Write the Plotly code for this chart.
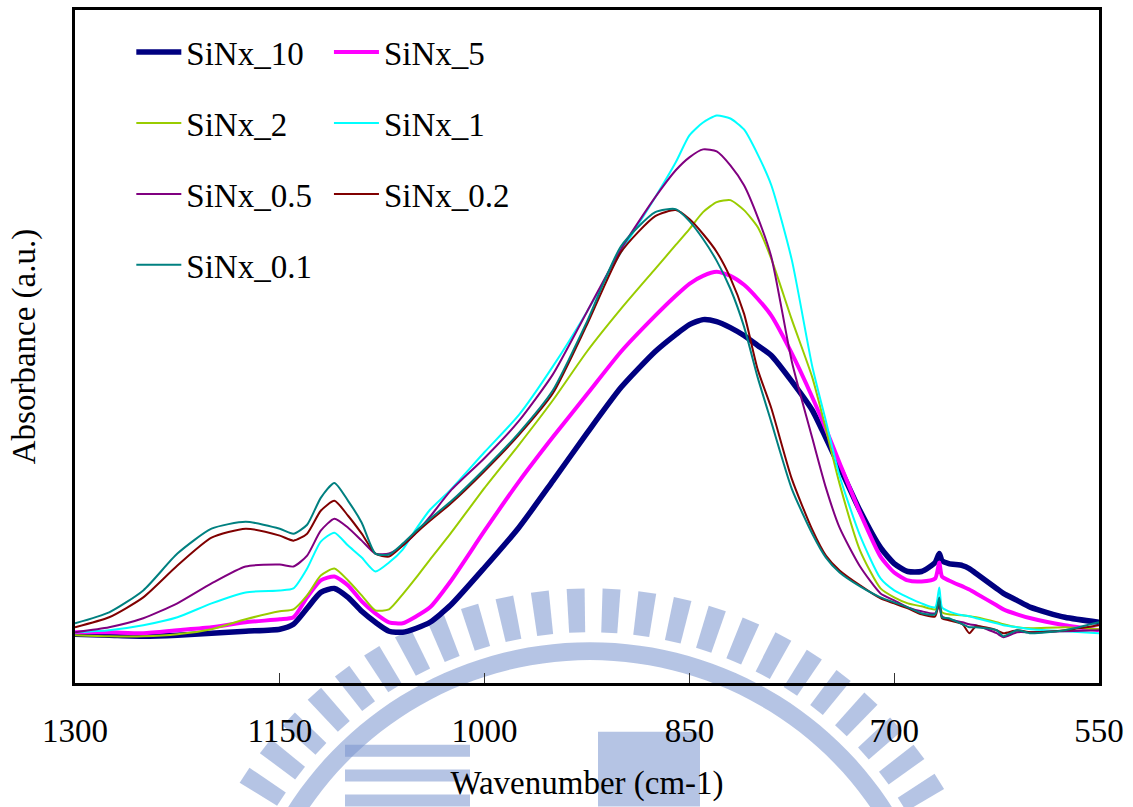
import math
import plotly.graph_objects as go

# FTIR absorbance spectra of SiNx films (arbitrary units)
wavenumber = [1300, 1275, 1250, 1225, 1200, 1175, 1150, 1140, 1130, 1120, 1110, 1100,
              1090, 1080, 1070, 1060, 1050, 1040, 1025, 1000, 975, 950, 925, 900,
              875, 860, 850, 840, 830, 820, 810, 800, 790, 775, 760, 750, 740, 725,
              710, 700, 690, 680, 670, 667, 665, 660, 650, 645, 640, 625, 620, 610,
              600, 575, 550]

sinx_10 = [49, 48, 47, 48, 50, 52, 54, 59, 75, 91, 95, 86,
           72, 61, 52, 51, 55, 61, 78, 116, 156, 203, 251, 297,
           333, 350, 360, 365, 363, 357, 349, 339, 329, 303, 274, 246, 217, 173,
           136, 120, 112, 112, 121, 130, 123, 120, 118, 115, 110, 95, 90, 83,
           76, 66, 61]

sinx_5 = [51, 51, 50, 53, 56, 61, 64, 66, 86, 103, 107, 98,
          82, 70, 61, 60, 67, 76, 102, 153, 202, 247, 290, 333,
          369, 389, 401, 409, 413, 409, 400, 386, 369, 331, 287, 255, 221, 171,
          127, 111, 103, 102, 105, 121, 107, 103, 97, 94, 90, 78, 74, 69,
          65, 58, 53]

sinx_2 = [48, 47, 47, 49, 54, 64, 72, 74, 88, 108, 115, 103,
          88, 73, 74, 89, 106, 124, 150, 196, 239, 284, 333, 376,
          416, 440, 456, 473, 483, 485, 475, 458, 426, 365, 307, 255, 200, 133,
          95, 86, 80, 77, 74, 82, 71, 69, 68, 67, 66, 61, 59, 56,
          55, 56, 54]

sinx_1 = [51, 53, 58, 66, 80, 91, 93, 95, 115, 142, 151, 138,
          126, 112, 121, 134, 155, 174, 194, 232, 269, 318, 373, 433,
          488, 523, 550, 563, 570, 567, 556, 531, 500, 425, 318, 263, 208, 148,
          105, 93, 86, 80, 76, 96, 76, 72, 68, 67, 65, 60, 58, 56,
          54, 52, 50]

sinx_05 = [51, 56, 65, 80, 100, 117, 119, 117, 128, 153, 165, 156,
           143, 130, 130, 138, 151, 167, 193, 226, 263, 310, 373, 436,
           488, 515, 528, 536, 534, 520, 500, 468, 428, 323, 246, 196, 156, 117,
           90, 83, 76, 72, 70, 78, 67, 64, 61, 59, 58, 50, 46, 51,
           51, 52, 53]

sinx_02 = [56, 66, 86, 118, 146, 155, 148, 143, 150, 173, 183, 168,
           150, 130, 127, 138, 151, 163, 180, 213, 249, 291, 360, 433,
           469, 475, 466, 451, 433, 407, 371, 315, 276, 205, 154, 128, 113, 98,
           85, 80, 75, 69, 67, 83, 65, 63, 59, 50, 57, 53, 50, 53,
           51, 53, 58]

sinx_01 = [60, 71, 93, 130, 155, 162, 155, 150, 159, 186, 201, 183,
           161, 130, 129, 140, 153, 165, 182, 215, 251, 294, 363, 439,
           473, 476, 464, 446, 424, 396, 358, 307, 262, 195, 150, 126, 111, 97,
           86, 81, 76, 70, 69, 86, 66, 65, 59, 56, 56, 53, 47, 53,
           50, 53, 61]

series_names = ["SiNx_10", "SiNx_5", "SiNx_2", "SiNx_1", "SiNx_0.5", "SiNx_0.2", "SiNx_0.1"]
series_values = [sinx_10, sinx_5, sinx_2, sinx_1, sinx_05, sinx_02, sinx_01]
series_colors = ["#000080", "#FF00FF", "#99CC00", "#00FFFF", "#800080", "#800000", "#008080"]
series_widths = [5.5, 4, 2, 2, 2, 2, 2]
# first legend column holds the left entries, second column the right ones
legend_ids = ["legend", "legend2", "legend", "legend2", "legend", "legend2", "legend"]

x_ticks = [1300, 1150, 1000, 850, 700, 550]

FONT = '"Liberation Serif"'

fig = go.Figure()
for name, vals, col, w, lg in zip(series_names, series_values, series_colors,
                                  series_widths, legend_ids):
    fig.add_trace(go.Scatter(
        x=wavenumber, y=vals, name=name, mode="lines",
        line=dict(color=col, width=w, shape="spline", smoothing=0.6),
        legend=lg, legendgroup=name,
    ))

# Faint university emblem behind the plot: a fan of radial bars, an arc band
# and a few solid blocks.
W, H = 1133, 807
L, R, T, B = 75, 34, 7, 124
pw, ph = W - L - R, H - T - B


def to_paper(px, py):
    return (px - L) / pw, (H - B - py) / ph


def poly_path(points):
    return "M " + " L ".join(f"{x:.5f},{y:.5f}" for x, y in points) + " Z"


emblem_color = "rgba(120,148,205,0.55)"
cx, cy = 590, 1000
shapes = []
for deg in range(32, 149, 5):
    a = math.radians(deg)
    half = math.radians(1.25)
    pts = [to_paper(cx + r * math.cos(a + da), cy - r * math.sin(a + da))
           for r, da in ((368, -half), (412, -half), (412, half), (368, half))]
    shapes.append(dict(type="path", xref="paper", yref="paper", path=poly_path(pts),
                       fillcolor=emblem_color, line=dict(width=0), layer="below"))

arc_pts = [to_paper(cx + 358 * math.cos(math.radians(d)), cy - 358 * math.sin(math.radians(d)))
           for d in range(24, 157, 2)]
arc_pts += [to_paper(cx + 340 * math.cos(math.radians(d)), cy - 340 * math.sin(math.radians(d)))
            for d in range(156, 23, -2)]
shapes.append(dict(type="path", xref="paper", yref="paper", path=poly_path(arc_pts),
                   fillcolor=emblem_color, line=dict(width=0), layer="below"))

blocks = [(345, 745, 470, 757), (345, 770, 470, 782), (345, 795, 470, 807),
          (598, 732, 700, 807)]
for x0, y0, x1, y1 in blocks:
    px0, py0 = to_paper(x0, y1)
    px1, py1 = to_paper(x1, y0)
    shapes.append(dict(type="rect", xref="paper", yref="paper",
                       x0=px0, y0=py0, x1=px1, y1=py1,
                       fillcolor=emblem_color, line=dict(width=0), layer="below"))

legend_style = dict(
    xanchor="left", yanchor="top", bgcolor="rgba(0,0,0,0)",
    font=dict(family=FONT, size=33, color="black"),
    tracegroupgap=25, itemwidth=45, traceorder="grouped",
)

fig.update_layout(
    width=W, height=H,
    margin=dict(l=L, r=R, t=T, b=B),
    paper_bgcolor="white", plot_bgcolor="rgba(0,0,0,0)",
    font=dict(family=FONT, size=33, color="black"),
    showlegend=True,
    shapes=shapes,
    legend=dict(x=0.055, y=0.979, **legend_style),
    legend2=dict(x=0.248, y=0.979, **legend_style),
    xaxis=dict(
        range=[1300, 550], tickvals=x_ticks, ticktext=[str(t) for t in x_ticks],
        ticks="inside", ticklen=10, tickwidth=1, tickcolor="#333",
        showline=True, linecolor="black", linewidth=2.5, mirror=True,
        showgrid=False, zeroline=False,
        tickfont=dict(family=FONT, size=33), ticklabelstandoff=17,
        title=dict(text="Wavenumber (cm-1)", font=dict(family=FONT, size=33), standoff=23),
    ),
    yaxis=dict(
        range=[0, 676], showticklabels=False, ticks="",
        showline=True, linecolor="black", linewidth=2.5, mirror=True,
        showgrid=False, zeroline=False,
        title=dict(text="Absorbance (a.u.)", font=dict(family=FONT, size=33), standoff=27),
    ),
)

fig.write_html("out.html")
